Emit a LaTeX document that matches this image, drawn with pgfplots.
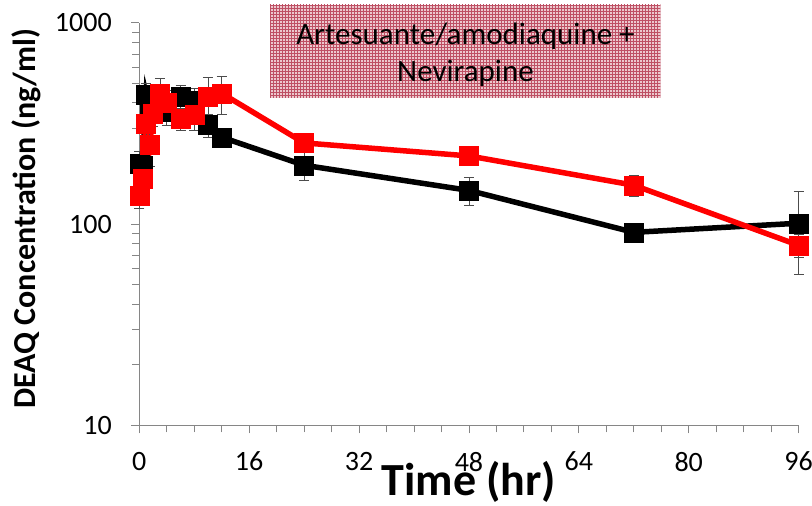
\documentclass[border=0pt]{standalone}
\usepackage{pgfplots}
\pgfplotsset{compat=1.18}
\usepackage{fontspec}
\setmainfont{Carlito}
\usetikzlibrary{patterns}
\definecolor{axgray}{RGB}{134,134,134}
\definecolor{boxpink}{RGB}{236,200,206}
\definecolor{boxgrid}{RGB}{190,80,100}
\begin{document}
\begin{tikzpicture}
\begin{axis}[
  at={(0,0)}, anchor=south west,
  scale only axis, width=659.3pt, height=402.8pt,
  xmin=0, xmax=96, ymin=10, ymax=1000, ymode=log,
  clip=false,
  axis x line*=bottom, axis y line*=left,
  axis line style={draw=axgray, line width=1pt},
  xtick={0,16,32,48,64,80,96},
  minor xtick={4,8,12,20,24,28,36,40,44,52,56,60,68,72,76,84,88,92},
  ytick={10,100,1000}, yticklabels={10,100,1000},
  minor ytick={20,30,40,50,60,70,80,90,200,300,400,500,600,700,800,900},
  tick align=outside, major tick length=8pt, minor tick length=7pt,
  every tick/.style={draw=axgray, line width=0.8pt},
  /pgf/number format/assume math mode=true,
  ticklabel style={font=\fontsize{28}{30}\selectfont},
  xticklabel style={yshift=-15pt},
  yticklabel style={xshift=-16pt},
  xlabel={Time (hr)},
  ylabel={DEAQ Concentration (ng/ml)},
  xlabel style={at={(axis description cs:0.5,-0.175)}, anchor=base, font=\fontsize{46}{50}\selectfont\bfseries},
  ylabel style={at={(axis description cs:-0.1715,0.513)}, anchor=center, rotate=0, font=\fontsize{32}{36}\selectfont\bfseries},
  error bars/y dir=both, error bars/y explicit,
  error bars/error bar style={line width=0.8pt, color=black!70},
  error bars/error mark options={rotate=90, mark size=5pt, line width=0.8pt, color=black!70},
]
\addplot[black, line width=5.5pt, mark=square*, mark size=9.5pt, mark options={fill=black, draw=black, line width=0.4pt}]
coordinates {
(0,200) +- (0,30)
(0.5,195) +- (0,25)
(1,440) +- (0,60)
(1.5,370) +- (0,50)
(2,380) +- (0,50)
(3,400) +- (0,60)
(4,360) +- (0,50)
(6,430) +- (0,60)
(8,410) +- (0,60)
(10,310) +- (0,40)
(12,270) +- (0,30)
(24,196) +- (0,31)
(48,147) +- (0,23)
(72,91) +- (0,10)
(96,101) +- (0,45)
};
\addplot[red, line width=5.5pt, mark=square*, mark size=9.5pt, mark options={fill=red, draw=red, line width=0.4pt}]
coordinates {
(0,139) +- (0,19)
(0.5,168) +- (0,25)
(1,316) +- (0,40)
(1.5,247) +- (0,54)
(2,355) +- (0,50)
(3,446) +- (0,84)
(4,400) +- (0,60)
(6,335) +- (0,42)
(8,348) +- (0,55)
(10,429) +- (0,105)
(12,446) +- (0,97)
(24,253) +- (0,20)
(48,218) +- (0,15)
(72,156) +- (0,19)
(96,78.5) +- (0,10)
};
\end{axis}
\fill[boxpink] (130.7pt,327.5pt) rectangle (521pt,420.5pt);
\fill[pattern=grid, pattern color=boxgrid] (130.7pt,327.5pt) rectangle (521pt,420.5pt);
\node[anchor=base, font=\fontsize{31}{37}\selectfont, inner sep=0pt] at (326.2pt,380.5pt) {Artesuante/amodiaquine +};
\node[anchor=base, font=\fontsize{31}{37}\selectfont, inner sep=0pt] at (326.2pt,343.5pt) {Nevirapine};
\pgfresetboundingbox
\useasboundingbox (-139.3pt,-80.5pt) rectangle (672.7pt,425.5pt);
\end{tikzpicture}
\end{document}
